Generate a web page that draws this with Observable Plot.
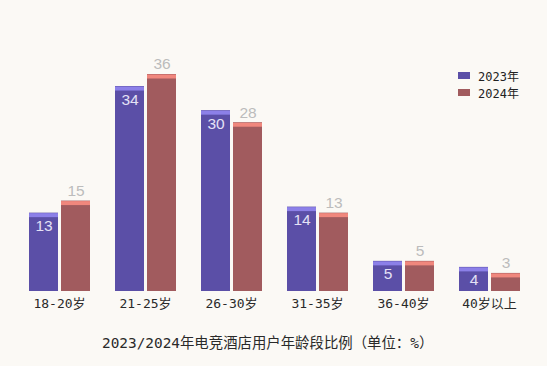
<!DOCTYPE html>
<html>
<head>
<meta charset="utf-8">
<script src="https://cdn.jsdelivr.net/npm/d3@7"></script>
<script src="https://cdn.jsdelivr.net/npm/@observablehq/plot@0.6"></script>
<style>
  html, body { margin: 0; padding: 0; background: #fbf9f5; }
  #wrap { position: relative; width: 547px; height: 366px; overflow: hidden; background: #fbf9f5; font-family: "DejaVu Sans Mono", "Noto Sans CJK SC", sans-serif; }
  #chart { position: absolute; left: 0; top: 0; }
  #legend { position: absolute; left: 458px; top: 67px; font-size: 12px; color: #222; }
  #legend .row { display: flex; align-items: center; height: 17px; }
  #legend .sw { width: 12px; height: 7px; margin-right: 8px; }
  #title { position: absolute; left: 102px; top: 333px; font-size: 14.4px; line-height: 20px; color: #2a2a2a; white-space: nowrap; }
</style>
</head>
<body>
<div id="wrap">
  <div id="chart"></div>
  <div id="legend"></div>
  <div id="title"></div>
</div>
<script>
const groups = ["18-20岁", "21-25岁", "26-30岁", "31-35岁", "36-40岁", "40岁以上"];
const years = ["2023年", "2024年"];
const values2023 = [13, 34, 30, 14, 5, 4];
const values2024 = [15, 36, 28, 13, 5, 3];
const titleText = "2023/2024年电竞酒店用户年龄段比例（单位：%）";

const bodyColors = ["#5b4fa7", "#a15b5e"];
const capColors = ["#8c80e8", "#f0877d"];

const data = groups.flatMap((g, i) => [
  {group: g, year: years[0], value: values2023[i]},
  {group: g, year: years[1], value: values2024[i]}
]);
const d23 = data.filter(d => d.year === years[0]);
const d24 = data.filter(d => d.year === years[1]);

const chart = Plot.plot({
  width: 547,
  height: 320,
  marginTop: 74,
  marginBottom: 29,
  marginLeft: 15,
  marginRight: 15,
  style: {background: "transparent", fontFamily: "'DejaVu Sans Mono', 'Noto Sans CJK SC', sans-serif", fontSize: "13px", color: "#2a2a2a"},
  fx: {domain: groups, padding: 0, label: null, axis: "bottom", tickSize: 0, tickPadding: 7},
  x: {domain: years, axis: null, paddingInner: 0.1, paddingOuter: 0.36},
  y: {domain: [0, 36], axis: null},
  color: {domain: years, range: bodyColors},
  marks: [
    Plot.barY(data, {fx: "group", x: "year", y: "value", fill: "year"}),
    Plot.tickY(d23, {fx: "group", x: "year", y: "value", stroke: capColors[0], strokeWidth: 4, dy: 2}),
    Plot.tickY(d24, {fx: "group", x: "year", y: "value", stroke: capColors[1], strokeWidth: 4, dy: 2}),
    Plot.text(d23, {fx: "group", x: "year", y: "value", text: d => String(d.value), dy: 13, fill: "#e4e1f6", fontSize: 15.5, fontFamily: "'Liberation Sans', sans-serif"}),
    Plot.text(d24, {fx: "group", x: "year", y: "value", text: d => String(d.value), dy: -10, fill: "#bcbcbc", fontSize: 15.5, fontFamily: "'Liberation Sans', sans-serif"})
  ]
});
document.getElementById("chart").appendChild(chart);

const legend = document.getElementById("legend");
years.forEach((y, i) => {
  const row = document.createElement("div");
  row.className = "row";
  const sw = document.createElement("span");
  sw.className = "sw";
  sw.style.background = bodyColors[i];
  const t = document.createElement("span");
  t.textContent = y;
  row.appendChild(sw);
  row.appendChild(t);
  legend.appendChild(row);
});
document.getElementById("title").textContent = titleText;
</script>
</body>
</html>
